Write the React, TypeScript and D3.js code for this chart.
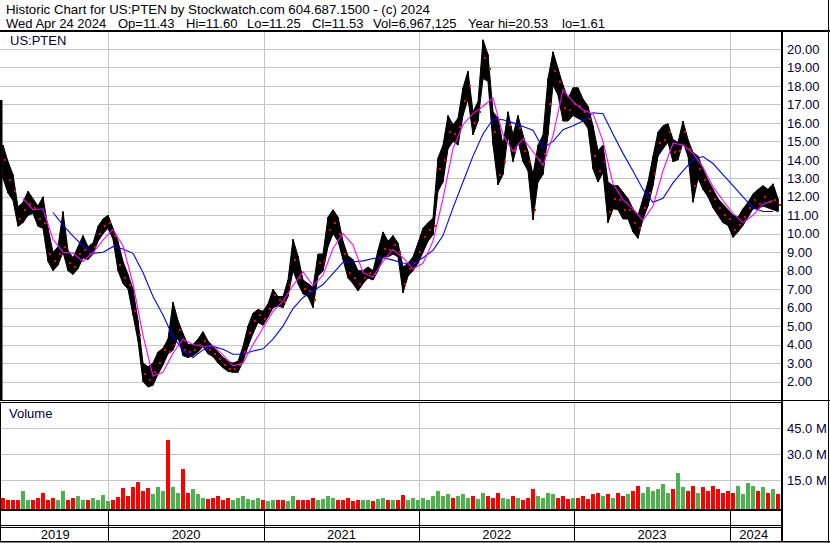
import React from "react";
import * as d3 from "d3";

const W = 830;
const H = 543;

// ---- price data, sampled roughly every 8 trading days (high / low / close) ----
const high2019 = [14.8, 13.9, 13.2, 11.45, 11.7, 12.3, 11.9, 11.5, 12.0, 10.3, 9.0, 9.3, 11.2, 9.1, 8.7, 9.3, 9.9, 9.3, 9.5, 10.4, 10.8, 11.0];
const low2019 = [13.0, 12.2, 11.8, 10.4, 10.6, 11.0, 11.1, 10.4, 10.3, 8.5, 8.0, 8.3, 9.0, 8.0, 7.8, 8.1, 8.7, 8.6, 8.9, 9.6, 10.0, 10.3];
const close2019 = [14.0, 12.9, 12.3, 10.8, 11.3, 11.6, 11.4, 10.8, 10.6, 8.9, 8.5, 8.9, 9.3, 8.4, 8.2, 8.9, 9.1, 8.9, 9.3, 10.0, 10.4, 10.6];

const high2020 = [10.3, 9.6, 8.5, 7.8, 7.0, 5.3, 3.0, 2.8, 3.0, 3.6, 3.8, 4.3, 6.3, 5.3, 4.6, 4.0, 4.0, 4.3, 4.7, 4.2, 3.9, 3.6, 3.3, 3.1, 3.0, 3.1, 3.9, 5.0, 5.7, 5.9, 5.8];
const low2020 = [9.7, 8.0, 7.3, 7.0, 5.6, 4.2, 2.0, 1.7, 1.8, 2.4, 2.9, 3.5, 3.7, 4.4, 3.4, 3.3, 3.4, 3.6, 3.9, 3.5, 3.35, 3.0, 2.75, 2.55, 2.5, 2.5, 3.1, 3.9, 4.6, 5.2, 5.05];
const close2020 = [9.9, 8.3, 7.6, 7.2, 5.8, 4.5, 2.4, 2.1, 2.5, 3.0, 3.7, 3.6, 4.0, 4.8, 3.7, 3.6, 3.7, 4.0, 4.2, 3.7, 3.5, 3.2, 2.9, 2.7, 2.7, 2.9, 3.6, 4.6, 5.3, 5.6, 5.4];

const high2021 = [6.2, 7.0, 6.6, 6.6, 7.5, 9.7, 8.8, 7.5, 7.3, 7.1, 8.9, 8.9, 10.9, 11.3, 10.9, 9.6, 8.8, 8.6, 8.0, 8.0, 8.2, 8.0, 9.1, 10.1, 9.6, 9.9, 9.5, 8.2, 8.4, 8.75, 9.5];
const low2021 = [5.5, 6.0, 6.1, 6.0, 6.6, 8.0, 7.3, 6.75, 6.6, 6.0, 7.7, 8.0, 9.3, 10.0, 9.6, 8.6, 7.6, 7.3, 6.9, 7.3, 7.6, 7.5, 8.0, 8.75, 8.75, 8.9, 8.75, 6.8, 7.7, 8.0, 8.4];
const close2021 = [5.9, 6.7, 6.4, 6.3, 7.2, 8.6, 7.6, 7.0, 6.9, 6.4, 8.4, 8.5, 10.2, 10.6, 10.0, 8.9, 7.9, 7.6, 7.3, 7.6, 7.9, 7.8, 8.7, 9.2, 9.1, 9.4, 9.0, 7.3, 8.1, 8.4, 9.0];

const high2022 = [10.3, 10.6, 10.85, 14.1, 14.8, 16.4, 15.9, 16.25, 17.9, 18.8, 16.6, 17.15, 20.5, 19.7, 16.6, 16.25, 14.8, 16.6, 15.35, 16.4, 15.35, 14.45, 13.2, 14.8, 15.35, 18.4, 19.85, 18.95, 18.05, 17.3, 17.9];
const low2022 = [9.0, 9.6, 9.95, 12.3, 12.8, 14.6, 15.0, 14.8, 16.4, 17.3, 15.35, 16.1, 18.4, 18.25, 14.8, 12.65, 13.2, 15.35, 13.9, 15.0, 13.9, 13.4, 10.75, 12.8, 13.2, 15.35, 18.05, 17.5, 16.1, 16.1, 16.4];
const close2022 = [9.8, 10.2, 10.4, 13.5, 14.0, 15.5, 15.4, 15.8, 17.2, 18.0, 16.0, 16.6, 19.5, 18.9, 15.5, 13.2, 13.9, 15.9, 14.5, 15.7, 14.5, 13.9, 11.3, 14.0, 14.3, 17.0, 18.8, 18.2, 16.8, 16.7, 17.0];

const high2023 = [17.9, 17.3, 16.9, 15.85, 14.5, 14.8, 12.8, 12.6, 12.6, 12.25, 11.9, 11.35, 11.0, 11.9, 12.8, 14.2, 15.5, 15.85, 15.95, 15.1, 14.95, 16.1, 15.1, 14.4, 14.2, 13.5, 12.9, 12.4, 11.9, 11.6, 11.3];
const low2023 = [16.25, 16.1, 15.7, 13.5, 12.8, 13.3, 10.6, 11.35, 11.3, 10.8, 10.8, 10.1, 9.75, 10.8, 11.5, 12.6, 14.2, 14.6, 14.95, 13.9, 14.0, 14.95, 14.2, 11.7, 13.0, 12.4, 12.0, 11.4, 11.0, 10.6, 10.45];
const close2023 = [16.9, 16.6, 16.2, 14.2, 13.4, 13.9, 11.2, 11.9, 11.8, 11.3, 11.3, 10.6, 10.3, 11.4, 12.2, 13.3, 14.9, 15.1, 15.5, 14.4, 14.5, 15.5, 14.6, 12.6, 13.5, 12.9, 12.3, 11.9, 11.4, 11.0, 10.8];

const high2024 = [11.0, 10.9, 11.35, 11.7, 12.15, 12.4, 12.6, 12.4, 12.7, 11.9];
const low2024 = [9.8, 10.1, 10.45, 10.9, 11.35, 11.35, 11.5, 11.4, 11.3, 11.2];
const close2024 = [10.2, 10.5, 10.9, 11.4, 11.8, 11.6, 12.0, 11.7, 11.8, 11.53];

// ---- volume (millions of shares) ----
const vol2019 = [5, 4, 3.5, 4, 9, 4, 3.5, 5, 7.5, 4, 5, 3.5, 9, 4, 5, 6, 4, 3.5, 5, 4, 6.5, 3];
const vol2020 = [4, 5.5, 10.9, 6, 11, 14, 9, 10.5, 7, 11, 9, 38, 11.5, 8, 21.5, 8, 10, 7, 5, 4.5, 5, 6, 4, 5, 4, 5, 6, 4.5, 3.5, 5, 3.5];
const vol2021 = [3, 4, 3.5, 4, 3, 6, 4, 3.5, 4, 5, 3.5, 4.5, 6, 5, 4, 3.5, 5, 3, 4, 3.5, 4, 3, 4.5, 5, 3.5, 4, 3.5, 6.5, 4, 5, 4];
const vol2022 = [5, 4, 6, 9, 6, 7, 5, 6, 7, 5, 6, 4.5, 8, 6, 5, 8, 5, 4.5, 6, 5, 4, 5, 10, 6, 5, 8, 7, 5, 6, 4.5, 5];
const vol2023 = [5, 6, 4.5, 7, 8, 6, 7, 5, 8, 6, 7, 9, 12, 8, 11, 9, 10, 13, 8, 10, 19.5, 11, 9, 12, 8, 11, 9, 12, 10, 8, 9];
const vol2024 = [8, 12, 7, 13.5, 12, 9, 11, 8, 10, 7];

// ---- moving averages, read every second sample ----
const maFast = [null, null, 11.9, 11.3, 11.35, 9.7, 9.0, 8.95, 8.5, 8.97, 9.65, 10.23, 9.35, 7.3, 4.5, 2.3, 2.5, 3.53, 4.29, 4.0, 3.9, 3.95, 3.44, 2.85, 3.0, 4.0, 4.9, 5.8, 6.35, 7.2, 7.94, 7.2, 7.75, 9.2, 10.0, 9.4, 7.9, 7.65, 8.5, 9.15, 8.7, 8.1, 8.4, 9.6, 11.9, 14.6, 15.9, 16.5, 16.9, 17.35, 15.35, 14.45, 15.15, 14.45, 13.7, 15.3, 17.8, 17.15, 16.7, 16.5, 15.0, 12.7, 11.85, 11.35, 10.72, 11.5, 13.4, 14.9, 14.8, 14.35, 13.6, 12.55, 11.8, 11.1, 10.6, 11.0, 11.6, 11.8];
const maSlow = [null, null, null, null, null, 11.15, 10.47, 9.87, 9.35, 8.94, 9.0, 9.3, 9.17, 8.94, 7.9, 6.6, 5.6, 4.43, 3.7, 3.3, 3.71, 3.9, 3.75, 3.48, 3.48, 3.65, 3.77, 4.3, 5.0, 5.95, 6.55, 6.9, 7.25, 7.85, 8.45, 8.48, 8.53, 8.66, 8.7, 8.57, 8.42, 8.35, 8.7, 9.1, 9.9, 11.4, 12.8, 14.2, 15.4, 16.2, 16.17, 16.0, 15.8, 15.6, 14.63, 15.0, 15.63, 15.85, 16.1, 16.55, 16.5, 15.4, 14.35, 13.4, 12.4, 11.7, 11.92, 12.75, 13.4, 14.0, 14.18, 13.8, 13.2, 12.6, 12.0, 11.4, 11.2, 11.2];

// ---- axis labels ----
const priceTicks = [2, 3, 4, 5, 6, 7, 8, 9, 10, 11, 12, 13, 14, 15, 16, 17, 18, 19, 20];
const volTicks = [15, 30, 45];
const years = [2019, 2020, 2021, 2022, 2023, 2024];

const titleLine = "Historic Chart for US:PTEN by Stockwatch.com 604.687.1500 - (c) 2024";
const infoParts = ["Wed Apr 24 2024", "Op=11.43", "Hi=11.60", "Lo=11.25", "Cl=11.53", "Vol=6,967,125", "Year hi=20.53", "lo=1.61"];

const high = [...high2019, ...high2020, ...high2021, ...high2022, ...high2023, ...high2024];
const low = [...low2019, ...low2020, ...low2021, ...low2022, ...low2023, ...low2024];
const close = [...close2019, ...close2020, ...close2021, ...close2022, ...close2023, ...close2024];
const volume = [...vol2019, ...vol2020, ...vol2021, ...vol2022, ...vol2023, ...vol2024];

const FONT = "'Liberation Sans', Arial, sans-serif";
const GRID = "#c4c4c4";
const LABEL = "#000033";

export default function App() {
  const n = high.length;
  const plotRight = 781;
  const x = d3.scaleLinear().domain([0, n - 1]).range([3, 778]);
  const xt = d3.scaleTime().domain([new Date(2019, 3, 26), new Date(2024, 3, 24)]).range([2, 778]);
  const y = d3.scaleLinear().domain([1, 20]).range([400, 49]);
  const yv = d3.scaleLinear().domain([0, 45]).range([506.5, 428.3]);

  const yearBounds = years.slice(1).map((yr) => xt(new Date(yr, 0, 1)));
  const yearCenters = years.map((yr) => {
    const a = Math.max(2, xt(new Date(yr, 0, 1)));
    const b = Math.min(778, xt(new Date(yr + 1, 0, 1)));
    return (a + b) / 2;
  });

  const maLine = d3
    .line<number | null>()
    .defined((d) => d != null)
    .x((_, j) => x(2 * j))
    .y((d) => y(d as number));

  const band = d3
    .area<number>()
    .x((_, i) => x(i))
    .y0((_, i) => y(low[i]))
    .y1((d) => y(d));

  const infoX = [6, 118, 186, 247, 312, 373, 468, 562];

  return (
    <svg
      width={W}
      height={H}
      viewBox={`0 0 ${W} ${H}`}
      style={{ position: "fixed", left: 0, top: 0, background: "#fff" }}
      fontFamily={FONT}
    >
      <rect x={0} y={0} width={W} height={H} fill="#fff" />
      {/* header */}
      <text x={6} y={13.5} fontSize={13} fill="#000" textLength={424} lengthAdjust="spacingAndGlyphs">{titleLine}</text>
      {infoParts.map((t, i) => (
        <text key={t} x={infoX[i]} y={28} fontSize={13} fill="#000">{t}</text>
      ))}

      {/* price grid */}
      {priceTicks.map((v) => (
        <line key={"pg" + v} x1={0} x2={plotRight} y1={Math.round(y(v)) + 0.5} y2={Math.round(y(v)) + 0.5} stroke={GRID} />
      ))}
      {yearBounds.map((bx, i) => (
        <line key={"vg" + i} x1={Math.round(bx) + 0.5} x2={Math.round(bx) + 0.5} y1={32} y2={400} stroke={GRID} />
      ))}
      {/* volume grid */}
      {volTicks.map((v) => (
        <line key={"vgl" + v} x1={0} x2={plotRight} y1={Math.round(yv(v)) + 0.5} y2={Math.round(yv(v)) + 0.5} stroke={GRID} />
      ))}
      {yearBounds.map((bx, i) => (
        <line key={"vvg" + i} x1={Math.round(bx) + 0.5} x2={Math.round(bx) + 0.5} y1={403} y2={509} stroke={GRID} />
      ))}

      <text x={10} y={45} fontSize={13} fill={LABEL}>US:PTEN</text>
      <text x={9} y={418} fontSize={13} fill={LABEL}>Volume</text>

      {/* price bars (high-low range band) */}
      <path d={band(high) || ""} fill="#000" stroke="#000" strokeWidth={1} />
      {high.map((h, i) => (
        <line key={"b" + i} x1={x(i)} x2={x(i)} y1={y(h)} y2={y(low[i])} stroke="#000" strokeWidth={1.5} />
      ))}
      {close.map((c, i) => {
        const cv = Math.min(high[i], Math.max(low[i], c));
        return <rect key={"c" + i} x={Math.round(x(i)) + 1} y={Math.round(y(cv)) - 1} width={2} height={2} fill="#ff0000" />;
      })}

      {/* moving averages */}
      <path d={maLine(maSlow) || ""} fill="none" stroke="#0000ff" strokeWidth={1.1} />
      <path d={maLine(maFast) || ""} fill="none" stroke="#ff00ff" strokeWidth={1.1} />

      {/* volume bars */}
      {volume.map((v, i) => {
        const up = i > 0 ? close[i] >= close[i - 1] : false;
        return (
          <rect
            key={"v" + i}
            x={Math.round(x(i)) - 2}
            width={4}
            y={yv(v)}
            height={509 - yv(v)}
            fill={up ? "#4cb24c" : "#ff0000"}
            shapeRendering="crispEdges"
          />
        );
      })}

      {/* frame lines */}
      <rect x={0} y={30} width={W} height={2} fill="#000" />
      <rect x={0} y={100} width={2.5} height={300} fill="#000" />
      <rect x={plotRight} y={30} width={2} height={512} fill="#000" />
      <rect x={0} y={400} width={W} height={1} fill="#000" />
      <rect x={0} y={402} width={plotRight} height={1} fill="#000" />
      <rect x={0} y={403} width={1} height={139} fill="#000" />
      <rect x={0} y={509} width={plotRight} height={2} fill="#000" />
      <rect x={0} y={525} width={plotRight} height={1} fill="#000" />
      <rect x={0} y={527} width={plotRight} height={1} fill="#000" />
      <rect x={0} y={541} width={W} height={1.5} fill="#000" />
      <rect x={828} y={0} width={1} height={H} fill="#000" />
      {yearBounds.map((bx, i) => (
        <rect key={"yt" + i} x={Math.round(bx)} y={511} width={1} height={30} fill="#000" />
      ))}

      {/* axis labels */}
      {priceTicks.map((v) => (
        <text key={"pl" + v} x={787} y={y(v)} dy="0.36em" fontSize={13} fill={LABEL}>
          {v.toFixed(2)}
        </text>
      ))}
      {volTicks.map((v) => (
        <text key={"vl" + v} x={787} y={yv(v)} dy="0.36em" fontSize={13} fill={LABEL}>
          {v.toFixed(1) + " M"}
        </text>
      ))}
      {years.map((yr, i) => (
        <text key={"yl" + yr} x={yearCenters[i]} y={539} textAnchor="middle" fontSize={13} fill="#000">
          {String(yr)}
        </text>
      ))}
    </svg>
  );
}
